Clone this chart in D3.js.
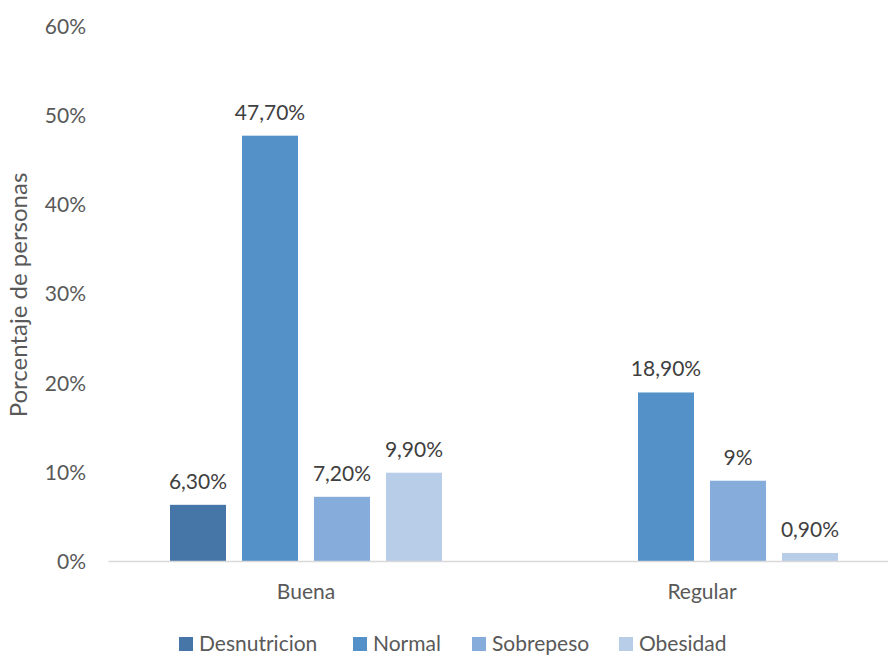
<!DOCTYPE html>
<html>
<head>
<meta charset="utf-8">
<script src="https://cdn.jsdelivr.net/npm/d3@7"></script>
<style>
  body { margin: 0; background: #fff; }
  svg text { font-family: Lato, "Open Sans", sans-serif; }
</style>
</head>
<body>
<svg id="chart" width="888" height="656"></svg>
<script>
// Estado de salud por categoría, porcentaje de personas por estado nutricional
const categories = ["Buena", "Regular"];
const seriesNames = ["Desnutricion", "Normal", "Sobrepeso", "Obesidad"];
const desnutricion = [6.3, null];
const normal = [47.7, 18.9];
const sobrepeso = [7.2, 9];
const obesidad = [9.9, 0.9];
const valueLabels = [["6,30%", null], ["47,70%", "18,90%"], ["7,20%", "9%"], ["9,90%", "0,90%"]];
const yTicks = [0, 10, 20, 30, 40, 50, 60];
const colors = ["#4676a8", "#5591c9", "#85acdb", "#b8cde8"];

const seriesValues = [desnutricion, normal, sobrepeso, obesidad];
const FS = "21px";

const svg = d3.select("#chart");

const x0 = d3.scaleBand().domain(categories).range([108, 900]).paddingInner(0).paddingOuter(0);
const x1 = d3.scaleBand().domain(seriesNames).range([62, 334]).paddingInner(16 / 72).paddingOuter(0);
const y = d3.scaleLinear().domain([0, 60]).range([561, 26]);

// Eje Y: solo etiquetas, sin líneas de cuadrícula
const yAxis = svg.append("g")
  .attr("transform", "translate(86,0)")
  .call(d3.axisLeft(y).tickValues(yTicks).tickSize(0).tickPadding(0).tickFormat(d => d + "%"));
yAxis.select(".domain").remove();
yAxis.selectAll("text")
  .attr("fill", "#595959")
  .style("font-size", FS)
  .attr("dy", "0.35em");

// Barras
const rows = (c, ci) => seriesNames.map((s, si) => ({ s, si, v: seriesValues[si][ci], label: valueLabels[si][ci] })).filter(d => d.v != null);

const groups = svg.append("g").selectAll("g")
  .data(categories)
  .join("g")
  .attr("transform", d => `translate(${x0(d)},0)`);

groups.selectAll("rect")
  .data(rows)
  .join("rect")
  .attr("x", d => x1(d.s))
  .attr("width", x1.bandwidth())
  .attr("y", d => y(d.v))
  .attr("height", d => y(0) - y(d.v))
  .attr("fill", d => colors[d.si]);

groups.selectAll("text.val")
  .data(rows)
  .join("text")
  .attr("class", "val")
  .attr("x", d => x1(d.s) + x1.bandwidth() / 2)
  .attr("y", d => y(d.v) - 16)
  .attr("text-anchor", "middle")
  .attr("fill", "#404040")
  .style("font-size", FS)
  .text(d => d.label);

// Eje X
const xAxis = svg.append("g")
  .attr("transform", "translate(0,561)")
  .call(d3.axisBottom(x0).tickSize(0).tickPadding(0));
xAxis.select(".domain").attr("stroke", "#d9d9d9").attr("stroke-width", 1.3);
xAxis.selectAll("text")
  .attr("y", 31)
  .attr("dy", "0.35em")
  .attr("fill", "#595959")
  .style("font-size", FS);

// Título del eje Y
svg.append("text")
  .attr("transform", "translate(27,295) rotate(-90)")
  .attr("text-anchor", "middle")
  .attr("fill", "#595959")
  .style("font-size", "24px")
  .text("Porcentaje de personas");

// Leyenda
const legendX = [179, 353, 472, 619];
const legend = svg.append("g").selectAll("g")
  .data(seriesNames)
  .join("g")
  .attr("transform", (d, i) => `translate(${legendX[i]},637)`);
legend.append("rect").attr("width", 14).attr("height", 14).attr("fill", (d, i) => colors[i]);
legend.append("text")
  .attr("x", 20)
  .attr("y", 7)
  .attr("dy", "0.35em")
  .attr("fill", "#595959")
  .style("font-size", FS)
  .text(d => d);
</script>
</body>
</html>
